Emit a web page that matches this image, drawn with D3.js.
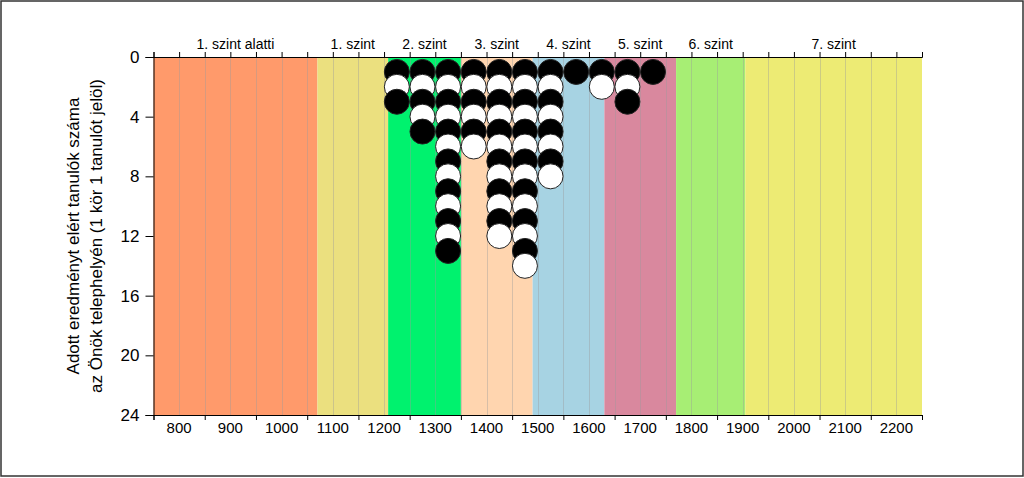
<!DOCTYPE html>
<html><head><meta charset="utf-8">
<script src="https://cdn.jsdelivr.net/npm/d3@7"></script>
<style>body{margin:0;background:#fff}svg{display:block}text{font-family:"Liberation Sans",Arial,sans-serif;fill:#000}</style>
</head><body>
<svg id="c" width="1024" height="478"></svg>
<script>
const bandNames = ["1. szint alatti","1. szint","2. szint","3. szint","4. szint","5. szint","6. szint","7. szint"];
const bandStarts = [750,1070,1208,1350,1490,1630,1770,1905];
const bandEnds   = [1070,1208,1350,1490,1630,1770,1905,2250];
const bandColors = ["#FF9A6B","#EBE07F","#00F26E","#FFD5AF","#A7D3E3","#D9889E","#A7EE74","#EDEB74"];
const columnScores = [1225,1275,1325,1375,1425,1475,1525,1575,1625,1675,1725];
const columnCounts = [3,5,13,6,12,14,8,1,2,3,1];
const xTickLabels = [800,900,1000,1100,1200,1300,1400,1500,1600,1700,1800,1900,2000,2100,2200];
const yTickLabels = [0,4,8,12,16,20,24];

const svg = d3.select("#c");
const x = d3.scaleLinear().domain([750,2250]).range([153.5,922]);
const y = d3.scaleLinear().domain([0,24]).range([57,415]);

// outer border
svg.append("rect").attr("x",1).attr("y",1).attr("width",1022).attr("height",475)
  .attr("fill","none").attr("stroke","#333").attr("stroke-width",1.5);

// bands
svg.append("g").selectAll("rect").data(bandNames).join("rect")
  .attr("x",(d,i)=>x(bandStarts[i])).attr("y",y(0))
  .attr("width",(d,i)=>x(bandEnds[i])-x(bandStarts[i])).attr("height",y(24)-y(0))
  .attr("fill",(d,i)=>bandColors[i]);

// grid lines every 50
const grid = d3.range(800,2250,50);
svg.append("g").selectAll("line").data(grid).join("line")
  .attr("x1",d=>Math.round(x(d))+0.5).attr("x2",d=>Math.round(x(d))+0.5)
  .attr("y1",y(0)).attr("y2",y(24))
  .attr("stroke","#9a9a9a").attr("stroke-opacity",0.4).attr("stroke-width",1);

// band labels (top)
svg.append("g").selectAll("text").data(bandNames).join("text")
  .attr("x",(d,i)=>x((bandStarts[i]+bandEnds[i])/2)).attr("y",49)
  .attr("text-anchor","middle").attr("font-size",14).text(d=>d);

// circles
const pts = [];
columnScores.forEach((s,i)=>{ for(let k=1;k<=columnCounts[i];k++) pts.push({s,k}); });
svg.append("g").selectAll("circle").data(pts).join("circle")
  .attr("cx",d=>x(d.s)).attr("cy",d=>y(d.k)).attr("r",12.5)
  .attr("fill",d=>d.k%2===1?"#000":"#fff").attr("stroke","#222").attr("stroke-width",1);

// bottom axis
const gb = svg.append("g").attr("transform",`translate(0,${y(24)})`)
  .call(d3.axisBottom(x).tickValues(d3.range(750,2251,100)).tickSize(5).tickFormat(""));
gb.select(".domain").attr("stroke","#000");
svg.append("g").selectAll("text").data(xTickLabels).join("text")
  .attr("x",d=>x(d)).attr("y",433).attr("text-anchor","middle").attr("font-size",15).text(d=>d);

// top axis
const gt = svg.append("g").attr("transform",`translate(0,${y(0)})`)
  .call(d3.axisTop(x).tickValues(d3.range(750,2251,50)).tickSize(5).tickFormat(""));
gt.select(".domain").attr("stroke","#000");

// left axis
const gl = svg.append("g").attr("transform",`translate(153.5,0)`)
  .call(d3.axisLeft(y).tickValues(yTickLabels).tickSize(8).tickPadding(6));
gl.selectAll("text").attr("font-size",17).style("font-family","Liberation Sans, Arial, sans-serif");
gl.attr("font-size",17);

// y title
const tt = svg.append("text").attr("transform",`translate(79,236) rotate(-90)`)
  .attr("text-anchor","middle").attr("font-size",17);
tt.append("tspan").attr("x",0).attr("dy",0).text("Adott eredményt elért tanulók száma");
tt.append("tspan").attr("x",0).attr("dy",23).text("az Önök telephelyén (1 kör 1 tanulót jelöl)");
</script>
</body></html>
